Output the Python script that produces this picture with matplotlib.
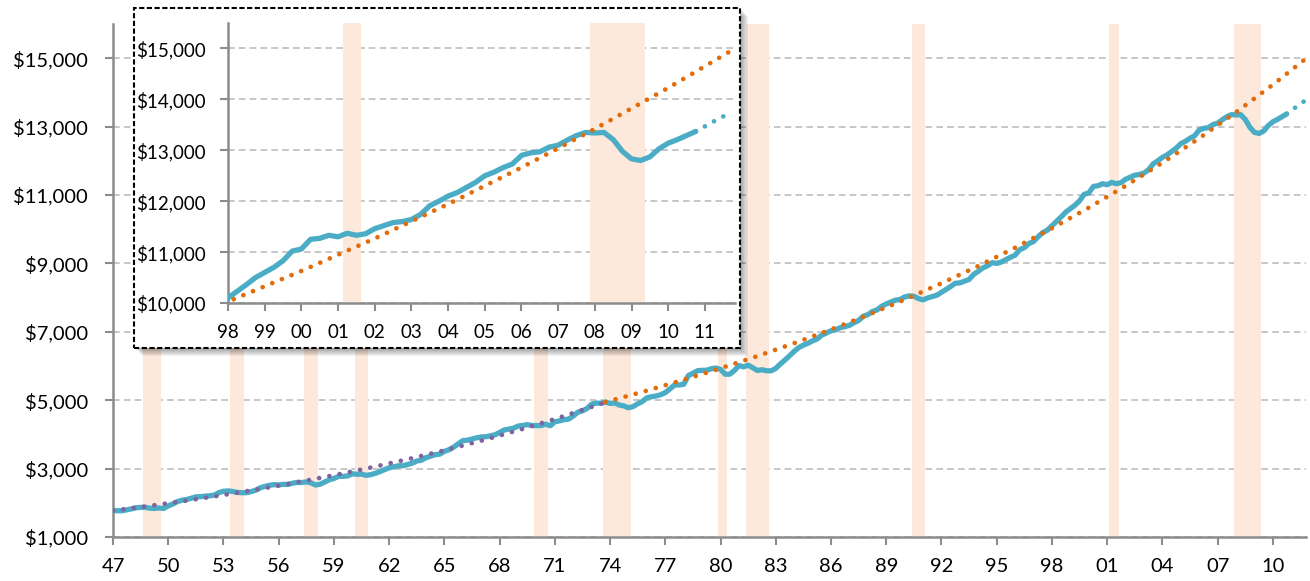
import matplotlib.pyplot as plt
import numpy as np
from matplotlib.patches import Rectangle

plt.rcParams['font.family'] = ['Lato', 'DejaVu Sans']

# real GDP, quarterly, 1947Q1 .. 2010Q4 (billions)
gdp = [
    1771, 1768, 1767, 1793,   # 1947
    1822, 1855, 1865, 1868,   # 1948
    1842, 1835, 1849, 1834,   # 1949
    1909, 1965, 2037, 2076,   # 1950
    2096, 2133, 2175, 2178,   # 1951
    2196, 2204, 2225, 2297,   # 1952
    2337, 2348, 2331, 2304,   # 1953
    2294, 2295, 2325, 2369,   # 1954
    2438, 2479, 2512, 2531,   # 1955
    2523, 2540, 2537, 2572,   # 1956
    2595, 2594, 2611, 2585,   # 1957
    2521, 2543, 2609, 2674,   # 1958
    2711, 2773, 2772, 2787,   # 1959
    2849, 2833, 2839, 2803,   # 1960
    2823, 2863, 2912, 2970,   # 1961
    3025, 3052, 3081, 3084,   # 1962
    3118, 3158, 3222, 3246,   # 1963
    3321, 3363, 3409, 3423,   # 1964
    3503, 3552, 3627, 3724,   # 1965
    3817, 3831, 3865, 3900,   # 1966
    3926, 3931, 3961, 3987,   # 1967
    4056, 4130, 4155, 4180,   # 1968
    4244, 4260, 4287, 4260,   # 1969
    4256, 4259, 4300, 4252,   # 1970
    4369, 4395, 4431, 4448,   # 1971
    4539, 4651, 4688, 4759,   # 1972
    4884, 4917, 4907, 4949,   # 1973
    4905, 4919, 4859, 4832,   # 1974
    4779, 4813, 4896, 4961,   # 1975
    5071, 5101, 5124, 5161,   # 1976
    5223, 5329, 5445, 5445,   # 1977
    5467, 5719, 5788, 5863,   # 1978
    5874, 5876, 5921, 5940,   # 1979
    5900, 5760, 5760, 5865,   # 1980
    6015, 5975, 6025, 5950,   # 1981
    5868, 5890, 5860, 5860,   # 1982
    5930, 6060, 6175, 6300,   # 1983
    6430, 6540, 6610, 6665,   # 1984
    6735, 6790, 6905, 6965,   # 1985
    7030, 7055, 7120, 7150,   # 1986
    7190, 7265, 7330, 7455,   # 1987
    7500, 7595, 7640, 7745,   # 1988
    7815, 7870, 7925, 7945,   # 1989
    8020, 8050, 8040, 7970,   # 1990
    7935, 7990, 8030, 8070,   # 1991
    8155, 8240, 8325, 8420,   # 1992
    8430, 8480, 8530, 8680,   # 1993
    8770, 8870, 8930, 9020,   # 1994
    9000, 9040, 9110, 9180,   # 1995
    9240, 9400, 9460, 9580,   # 1996
    9640, 9780, 9900, 9970,   # 1997
    10100, 10230, 10360, 10500,   # 1998
    10600, 10700, 10830, 11020,   # 1999
    11060, 11250, 11270, 11330,   # 2000
    11300, 11370, 11330, 11360,   # 2001
    11460, 11520, 11580, 11600,   # 2002
    11640, 11740, 11910, 12000,   # 2003
    12100, 12170, 12270, 12370,   # 2004
    12500, 12570, 12660, 12730,   # 2005
    12900, 12950, 12970, 13060,   # 2006
    13100, 13200, 13290, 13350,   # 2007
    13340, 13350, 13210, 12980,   # 2008
    12830, 12800, 12870, 13030,   # 2009
    13140, 13210, 13290, 13370,   # 2010
]

# dotted projection after the last actual quarter
proj_years = [2010.75, 2011.0, 2011.25, 2011.5, 2011.75]
proj_gdp = [13370, 13470, 13570, 13665, 13760]

# trend 1947-1973 (purple) and 1973-2011 (orange)
trend1_years = [1947, 1949, 1951, 1953, 1955, 1957, 1959, 1961, 1963, 1965,
                1967, 1969, 1971, 1973, 1973.75]
trend1 = [1770, 1911, 2064, 2229, 2406, 2599, 2806, 3030, 3272, 3533,
          3815, 4120, 4449, 4804, 4945]
trend2_years = [1973.75, 1976, 1978, 1980, 1982, 1984, 1986, 1988, 1990, 1992,
                1994, 1996, 1998, 2000, 2002, 2004, 2006, 2008, 2010, 2011.75]
trend2 = [4945, 5280, 5597, 5933, 6289, 6667, 7067, 7492, 7942, 8418,
          8924, 9459, 10027, 10629, 11267, 11943, 12661, 13420, 14226, 14970]

# recession shading (start, end)
rec_start = [1948.625, 1953.375, 1957.375, 1960.125, 1969.875, 1973.625,
             1979.875, 1981.375, 1990.375, 2001.125, 2007.875]
rec_end = [1949.625, 1954.125, 1958.125, 1960.875, 1970.625, 1975.125,
           1980.375, 1982.625, 1991.125, 2001.625, 2009.375]

main_xticks = list(range(1947, 2011, 3))
main_yticks = [1000, 3000, 5000, 7000, 9000, 11000, 13000, 15000]
inset_xticks = list(range(1998, 2012))
inset_yticks = [10000, 11000, 12000, 13000, 14000, 15000]

blue = '#4BACC6'
orange = '#E36C0A'
purple = '#8064A2'
shade = '#FCE9DB'
axis_gray = '#8C8C8C'
dots = (0, (0.01, 2.2))

q_years = 1947 + np.arange(len(gdp)) / 4


def draw(ax, lw_line):
    for s, e in zip(rec_start, rec_end):
        ax.axvspan(s, e, color=shade, lw=0, zorder=1)
    ax.plot(q_years, gdp, color=blue, lw=lw_line, solid_joinstyle='round',
            solid_capstyle='round', zorder=3)
    ax.plot(proj_years, proj_gdp, color=blue, lw=3.4, ls=dots,
            dash_capstyle='round', zorder=3)
    ax.plot(trend1_years, trend1, color=purple, lw=3.4, ls=dots,
            dash_capstyle='round', zorder=4)
    ax.plot(trend2_years, trend2, color=orange, lw=3.4, ls=dots,
            dash_capstyle='round', zorder=4)
    ax.set_axisbelow(True)
    ax.grid(axis='y', color='#BDBDBD', lw=1.2, ls=(0, (4, 2.5)))
    for s in ['top', 'right']:
        ax.spines[s].set_visible(False)
    for s in ['left', 'bottom']:
        ax.spines[s].set_color(axis_gray)
        ax.spines[s].set_linewidth(1.8)
    ax.tick_params(colors=axis_gray, length=6, width=1.5, labelcolor='black')


W, H = 1310, 581
fig = plt.figure(figsize=(W / 100, H / 100), dpi=100)

ax = fig.add_axes([113 / W, 1 - 537 / H, (1306 - 113) / W, (537 - 24) / H])
draw(ax, 3.8)
ax.set_xlim(1947, 2011.8)
ax.set_ylim(1000, 16000)
ax.set_xticks(main_xticks)
ax.set_xticklabels(['%02d' % (y % 100) for y in main_xticks])
ax.set_yticks(main_yticks)
ax.set_yticklabels(['${:,}'.format(v) for v in main_yticks])
ax.tick_params(axis='y', pad=12, labelsize=14.5)
ax.tick_params(axis='x', pad=9, labelsize=14.5)

# inset frame with soft shadow
bx0, by0, bx1, by1 = 134, 8, 740, 348
for k in range(1, 9):
    fig.patches.append(Rectangle(((bx0 + k) / W, 1 - (by1 + k) / H),
                                 (bx1 - bx0) / W, (by1 - by0) / H,
                                 transform=fig.transFigure, facecolor='black',
                                 edgecolor='none', alpha=0.05, zorder=1))
fig.patches.append(Rectangle((bx0 / W, 1 - by1 / H), (bx1 - bx0) / W, (by1 - by0) / H,
                             transform=fig.transFigure, facecolor='white',
                             edgecolor='black', lw=1.5, ls=(0, (2.5, 1.2)), zorder=2))

ins = fig.add_axes([228 / W, 1 - 303 / H, (735 - 228) / W, (303 - 23) / H])
ins.set_zorder(3)
ins.patch.set_alpha(0)
draw(ins, 3.8)
ins.set_xlim(1998, 2011.82)
ins.set_ylim(10000, 15500)
ins.set_xticks(inset_xticks)
ins.set_xticklabels(['%02d' % (y % 100) for y in inset_xticks])
ins.set_yticks(inset_yticks)
ins.set_yticklabels(['${:,}'.format(v) for v in inset_yticks])
ins.tick_params(axis='y', pad=10, labelsize=13.5)
ins.tick_params(axis='x', pad=9, labelsize=13.5)

fig.savefig('out.png', dpi=100)
